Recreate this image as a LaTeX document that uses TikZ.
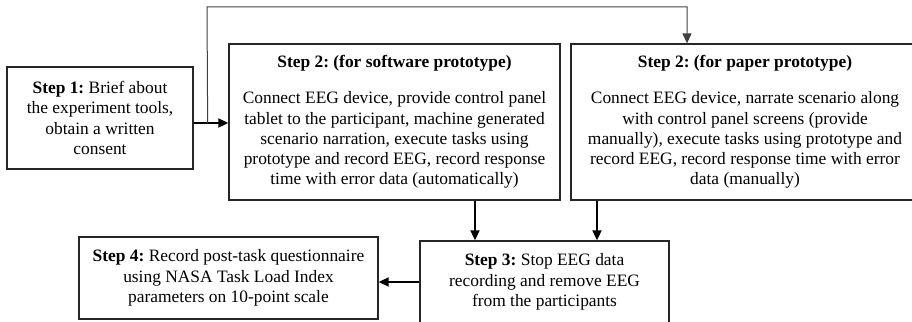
\documentclass[tikz,border=0pt]{standalone}
\usepackage{fontspec}
\setmainfont{Liberation Serif}
\usetikzlibrary{arrows.meta,calc}
\frenchspacing
\tikzset{
  stepbox/.style={rectangle, draw=black!85, line width=1.3pt, align=center,
    inner sep=0pt, font=\fontsize{17.4}{20.2}\selectfont},
  flow/.style={line width=1.8pt, -{Triangle[length=10pt,width=9pt]}},
  loopline/.style={line width=1pt, draw=black!75, -{Triangle[length=10pt,width=9pt]}}
}
\begin{document}
\begin{tikzpicture}[x=1pt,y=-1pt]
  \useasboundingbox (0,0) rectangle (912,321);
  \clip (0,0) rectangle (912,321);

  % process steps
  \node[stepbox, minimum width=186pt, minimum height=102pt] (s1) at (100,118)
    {\textbf{Step 1:} Brief about\\the experiment tools,\\obtain a written\\consent};
  \node[stepbox, minimum width=331pt, minimum height=156pt] (s2a) at (394.5,122)
    {\textbf{Step 2: (for software prototype)}\\[16pt]
     Connect EEG device, provide control panel\\
     tablet to the participant, machine generated\\
     scenario narration, execute tasks using\\
     prototype and record EEG, record response\\
     time with error data (automatically)};
  \node[stepbox, minimum width=348pt, minimum height=156pt] (s2b) at (745,122)
    {\textbf{Step 2: (for paper prototype)}\\[16pt]
     Connect EEG device, narrate scenario along\\
     with control panel screens (provide\\
     manually), execute tasks using prototype and\\
     record EEG, record response time with error\\
     data (manually)};
  \node[stepbox, minimum width=249pt, minimum height=82pt] (s3) at (544.5,282)
    {\textbf{Step 3:} Stop EEG data\\recording and remove EEG\\from the participants};
  \node[stepbox, minimum width=299pt, minimum height=82pt] (s4) at (228.5,278)
    {\textbf{Step 4:} Record post-task questionnaire\\using NASA Task Load Index\\parameters on 10-point scale};

  % connectors
  \coordinate (j) at ([yshift=-5pt]s1.east);
  \coordinate (br) at ($(j)+(14,0)$);
  \coordinate (tl) at (207,7);
  \coordinate (tr) at (687,7);
  \draw[flow] (j) -- (j -| s2a.west);
  \draw[loopline] (br) -- (tl) -- (tr) -- (tr |- s2b.north);

  \coordinate (da) at ([xshift=80.5pt]s2a.south);
  \coordinate (db) at ([xshift=-148pt]s2b.south);
  \draw[flow] (da) -- (da |- s3.north);
  \draw[flow] (db) -- (db |- s3.north);
  \draw[flow] (s3.west) -- (s3.west -| s4.east);
\end{tikzpicture}
\end{document}
